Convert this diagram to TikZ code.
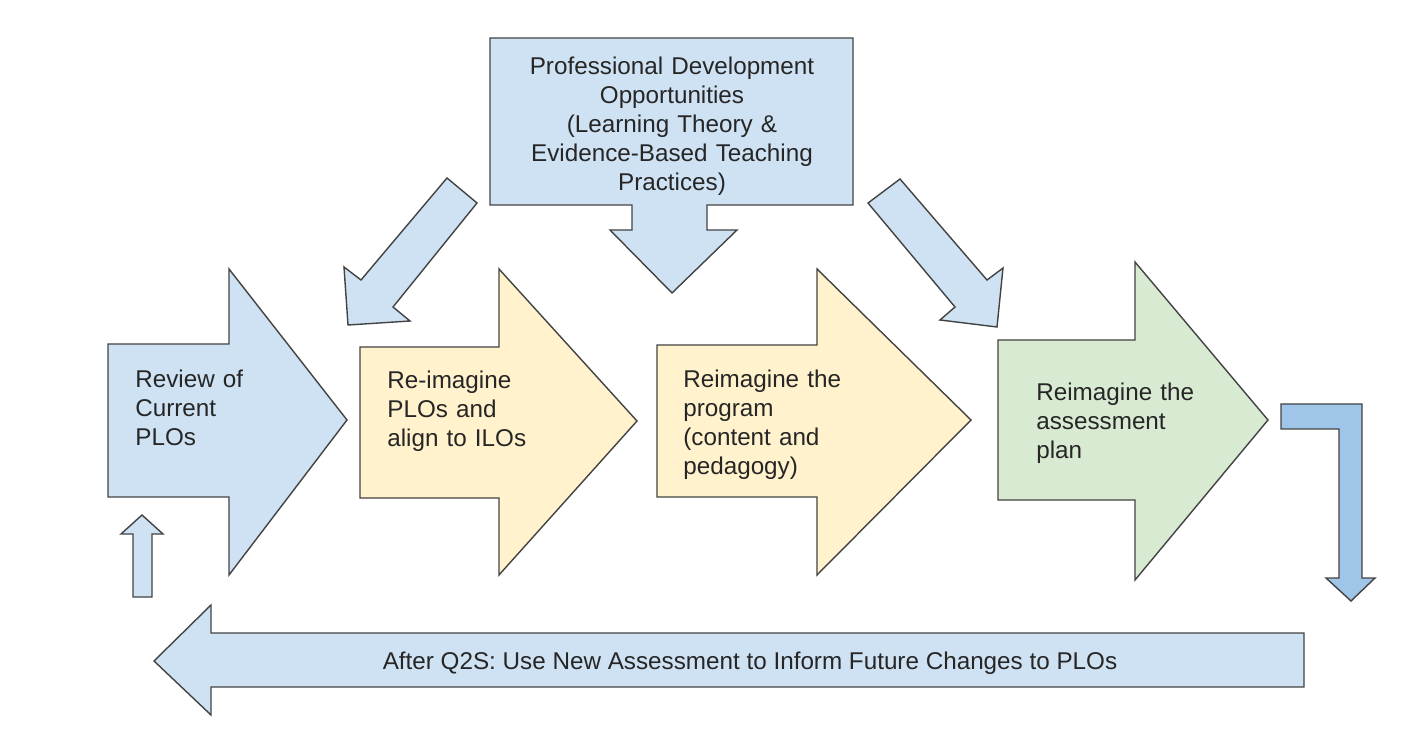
\documentclass[tikz,border=0pt]{standalone}
\usepackage{fontspec}
\setmainfont{Liberation Sans}
\usetikzlibrary{positioning}

\definecolor{paleblue}{HTML}{CFE2F3}
\definecolor{midblue}{HTML}{9FC5E8}
\definecolor{paleyellow}{HTML}{FFF2CC}
\definecolor{palegreen}{HTML}{D9EAD3}
\definecolor{edgegray}{HTML}{434343}

\begin{document}
\begin{tikzpicture}[
    x=0.02cm, y=-0.02cm,
    blockarrow/.style={draw=edgegray, line width=0.8pt, line join=miter},
    bluearrow/.style={blockarrow, fill=paleblue},
    yellowarrow/.style={blockarrow, fill=paleyellow},
    greenarrow/.style={blockarrow, fill=palegreen},
    txt/.style={font=\fontsize{13.8}{16.5}\selectfont, text=black!85, inner sep=0pt},
    steptxt/.style={txt, text width=4cm, align=left, anchor=base west},
]
\useasboundingbox (0,0) rectangle (1410,736);

% =========================================================
% TOP: professional development box with its three arrows
% =========================================================
\draw[bluearrow] (490,38) -- (853,38) -- (853,205) -- (707,205) -- (707,230)
    -- (737,230) -- (672,293) -- (610,230) -- (632,230) -- (632,205)
    -- (490,205) -- cycle;
\node[txt, text width=7cm, align=center, anchor=base] (pd) at (672,75)
    {Professional Development\\Opportunities\\(Learning Theory \&\\
     Evidence-Based Teaching\\Practices)};

% slanted arrows down to the second and fourth step
\draw[bluearrow] (447,178) -- (477,203) -- (393,307) -- (410,321) -- (348,325)
    -- (344,267) -- (361,280) -- cycle;
\draw[bluearrow] (900,179) -- (987,280) -- (1003,268) -- (997,327) -- (940,320)
    -- (955,307) -- (868,203) -- cycle;

% =========================================================
% MIDDLE: the four steps
% =========================================================
\draw[bluearrow] (108,344) -- (229,344) -- (229,269) -- (347,420) -- (229,575)
    -- (229,497) -- (108,497) -- cycle;
\node[steptxt] (review) at (135,388) {Review of\\Current\\PLOs};

\draw[yellowarrow] (360,347) -- (499,347) -- (499,269) -- (637,421) -- (499,575)
    -- (499,498) -- (360,498) -- cycle;
\node[steptxt] (plos) at (387,389) {Re-imagine\\PLOs and\\align to ILOs};

\draw[yellowarrow] (657,345) -- (817,345) -- (817,269) -- (971,420) -- (817,575)
    -- (817,497) -- (657,497) -- cycle;
\node[steptxt] (program) at (683,388) {Reimagine the\\program\\(content and\\pedagogy)};

\draw[greenarrow] (998,340) -- (1135,340) -- (1135,262) -- (1268,420) -- (1135,580)
    -- (1135,500) -- (998,500) -- cycle;
\node[steptxt] (assess) at (1036,401) {Reimagine the\\assessment\\plan};

% =========================================================
% BOTTOM: loop back to the first step
% =========================================================
\draw[blockarrow, fill=midblue] (1281,404) -- (1362,404) -- (1362,578) -- (1375,578)
    -- (1351,601) -- (1326,578) -- (1339,578) -- (1339,429) -- (1281,429) -- cycle;

\draw[bluearrow] (1304,633) -- (1304,687) -- (211,687) -- (211,715) -- (154,661)
    -- (211,605) -- (211,633) -- cycle;
\node[txt, anchor=base] (after) at (750,669)
    {After Q2S: Use New Assessment to Inform Future Changes to PLOs};

\draw[bluearrow] (133,597) -- (133,534) -- (121,534) -- (142,515) -- (163,534)
    -- (152,534) -- (152,597) -- cycle;

\end{tikzpicture}
\end{document}
